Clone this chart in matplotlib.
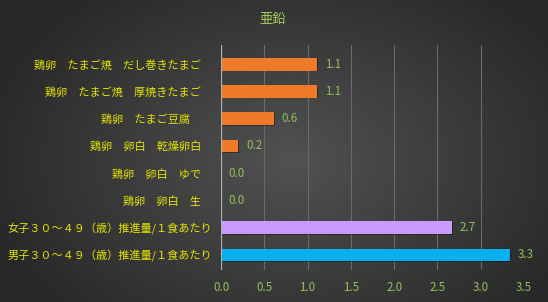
import numpy as np
import matplotlib.pyplot as plt
from matplotlib.patches import Rectangle

plt.rcParams['font.family'] = ['Noto Sans CJK JP', 'DejaVu Sans']

# data, bottom to top
labels = [
    "男子３０～４９（歳）推進量/１食あたり",
    "女子３０～４９（歳）推進量/１食あたり",
    "鶏卵　卵白　生　",
    "鶏卵　卵白　ゆで　",
    "鶏卵　卵白　乾燥卵白　",
    "鶏卵　たまご豆腐　　",
    "鶏卵　たまご焼　厚焼きたまご　",
    "鶏卵　たまご焼　だし巻きたまご　",
]
values = [3.34, 2.67, 0.0, 0.0, 0.2, 0.61, 1.11, 1.11]
colors = ["#00b0f0", "#cc99ff", "#f07a2a", "#f07a2a", "#f07a2a",
          "#f07a2a", "#f07a2a", "#f07a2a"]
xticks = [0.0, 0.5, 1.0, 1.5, 2.0, 2.5, 3.0, 3.5]

fig = plt.figure(figsize=(5.48, 3.02), dpi=100)

# radial gray background
bg = fig.add_axes([0, 0, 1, 1], zorder=-10)
yy, xx = np.mgrid[0:302, 0:548]
r = np.sqrt(((xx - 290) / 330.0) ** 2 + ((yy - 160) / 230.0) ** 2)
shade = np.clip(0.32 - 0.17 * r, 0.16, 0.32)
bg.imshow(np.dstack([shade] * 3), aspect="auto", extent=[0, 1, 0, 1])
bg.axis("off")

ax = fig.add_axes([221 / 548, 32 / 302, 303 / 548, 225 / 302])
ax.set_facecolor("none")
y = np.arange(len(values))

# soft shadows below the bars
for yi, v in zip(y, values):
    if v > 0:
        ax.add_patch(Rectangle((0.01, yi - 0.26), v, 0.47, color="black",
                               alpha=0.35, lw=0, zorder=2))
ax.barh(y, values, height=0.47, color=colors, zorder=3)

for yi, v in zip(y, values):
    ax.text(v + 0.09, yi, f"{v:.1f}", va="center", ha="left",
            color="#92c05a", fontsize=8.3)

ax.set_xlim(0, 3.5)
ax.set_ylim(-0.55, 7.7)
ax.set_xticks(xticks)
ax.set_xticklabels([f"{t:.1f}" for t in xticks], color="#92c05a", fontsize=8.3)
ax.set_yticks(y)
ax.set_yticklabels(labels, color="#e6e600", fontsize=8.0)
ax.tick_params(length=0, pad=6.5)
ax.tick_params(axis="x", pad=8)
ax.grid(axis="x", color="#6a6a6a", lw=0.8, zorder=0)
ax.axvline(0, color="#b0b0b0", lw=0.9, zorder=4)
for s in ax.spines.values():
    s.set_visible(False)

fig.text(273 / 548, 1 - 19 / 302, "亜鉛", color="#a8d060", fontsize=9.5,
         ha="center", va="center")

fig.savefig("out.png", dpi=100)
